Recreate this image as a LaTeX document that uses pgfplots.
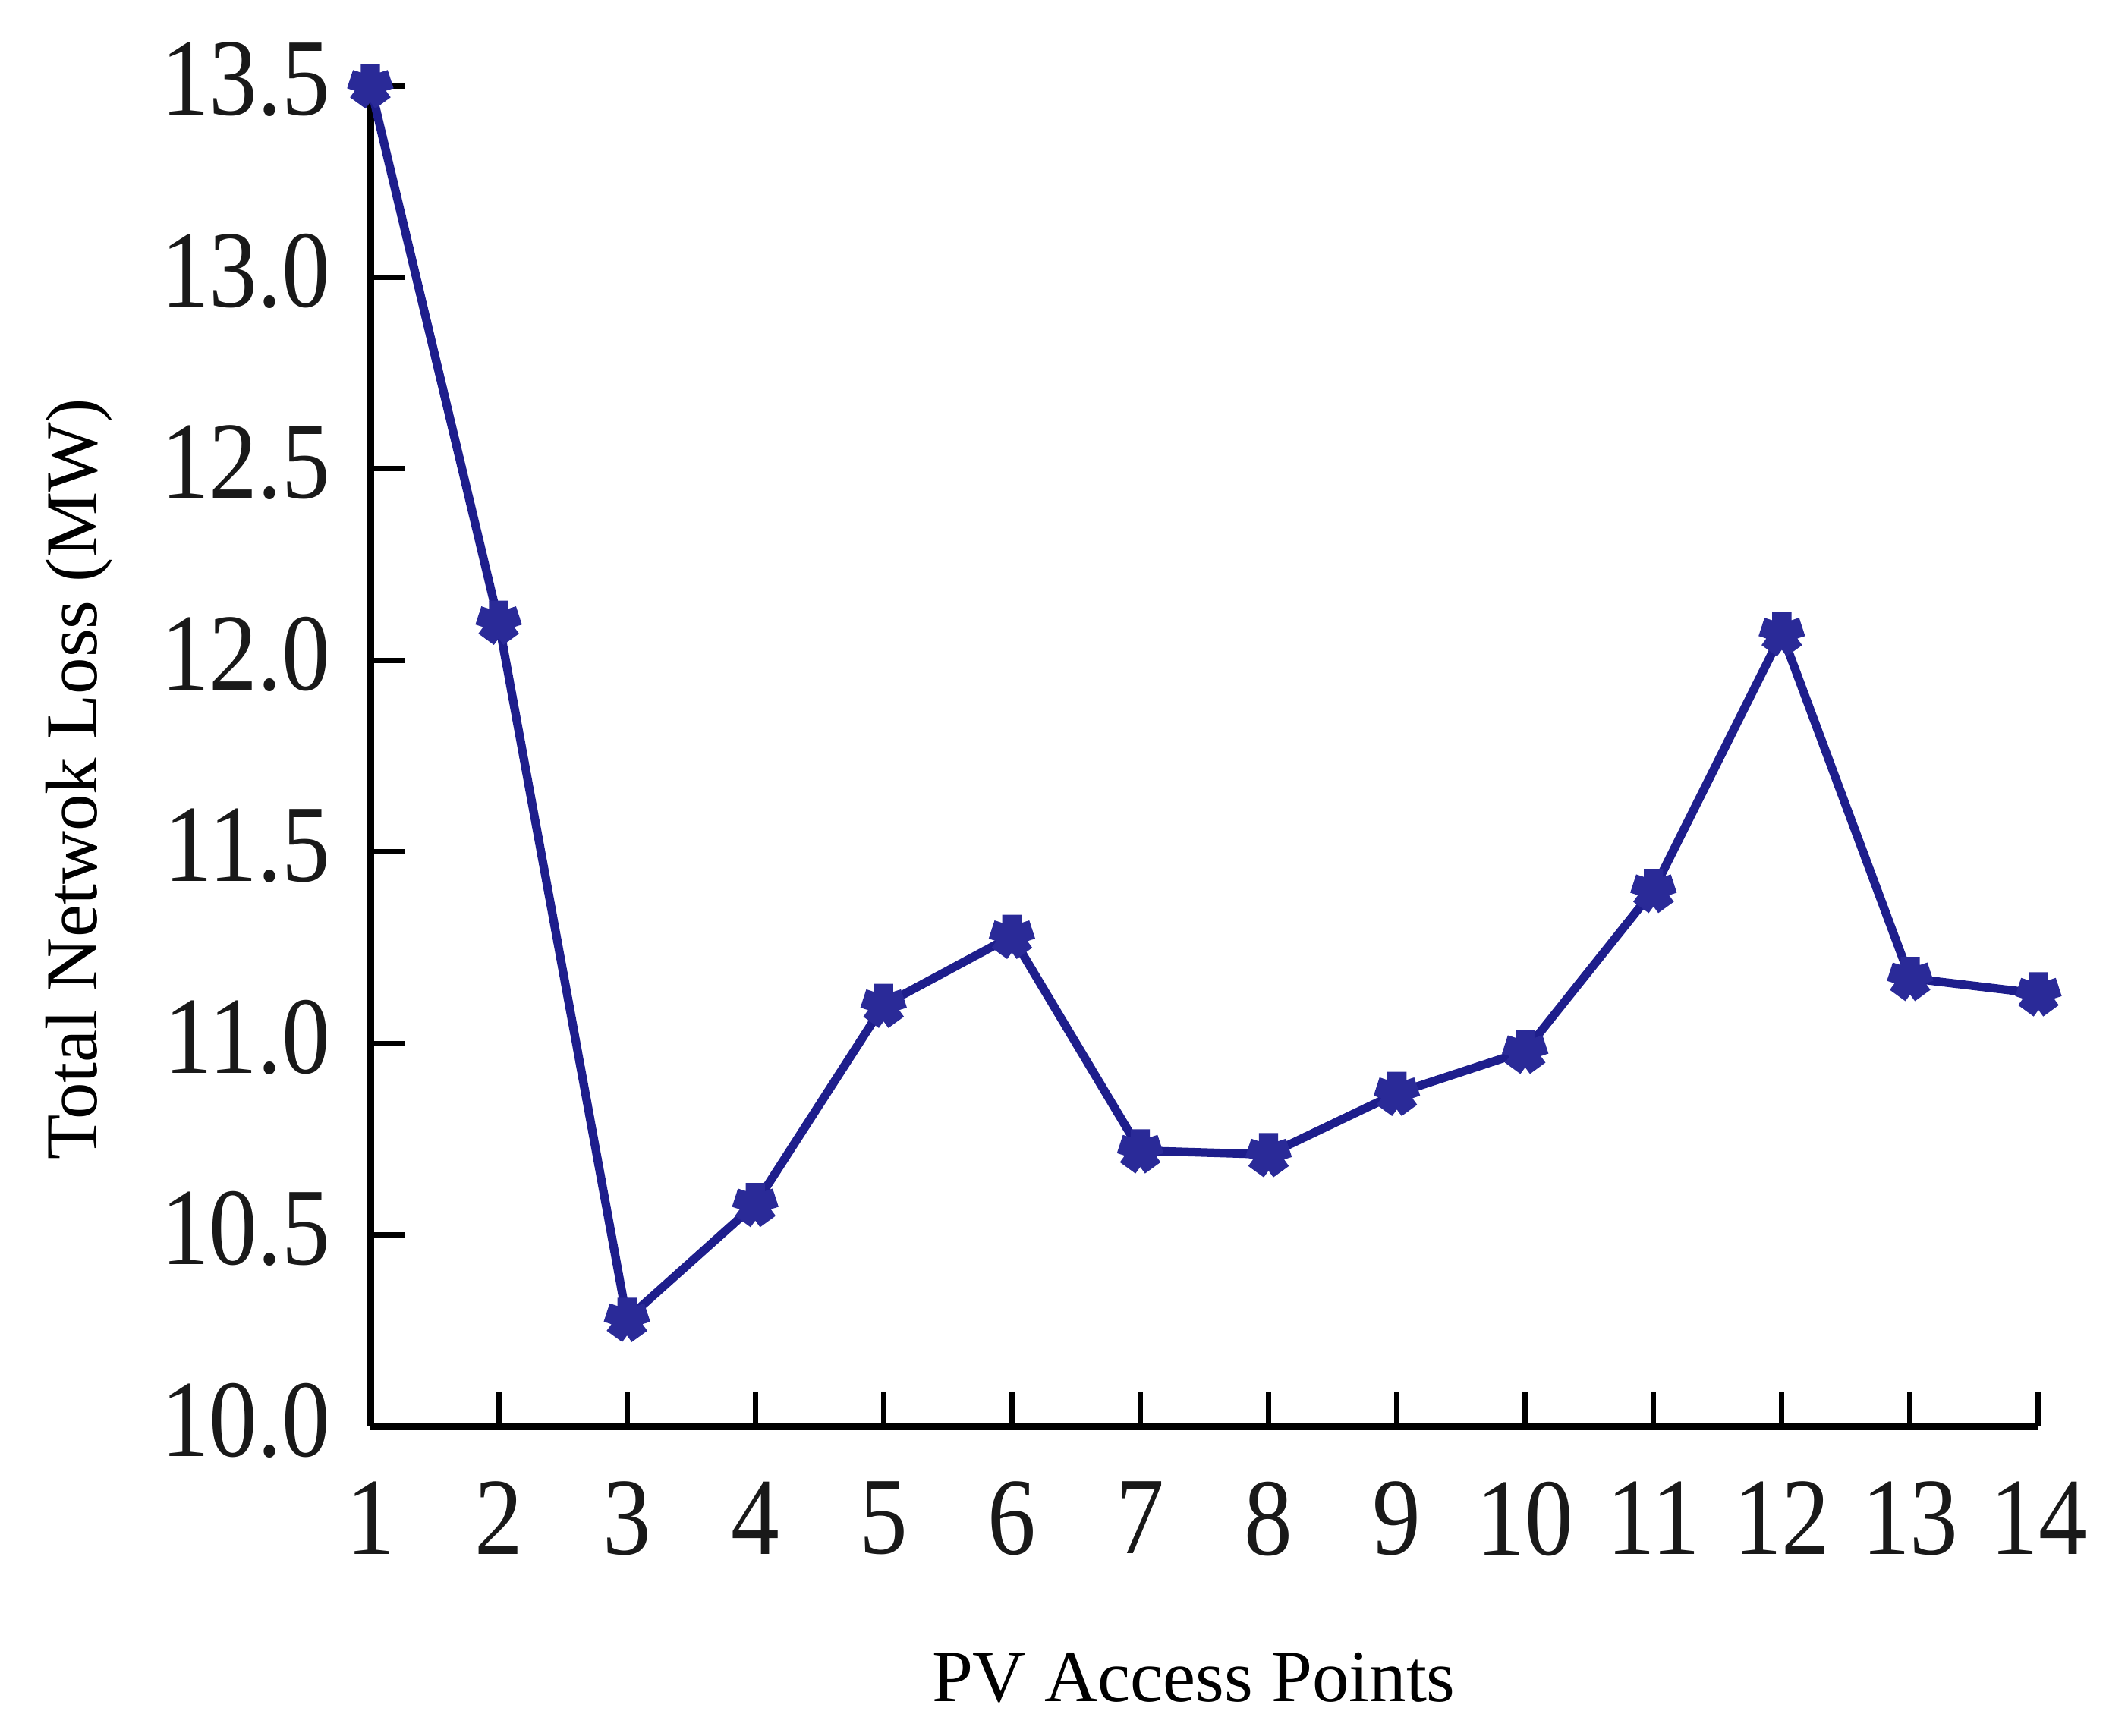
\documentclass[border=0pt]{standalone}
\usepackage{pgfplots}
\pgfplotsset{compat=1.18}
\usepackage{fontspec}
\setmainfont{Liberation Serif}
\newfontfamily\tickfont[FakeStretch=0.88]{Liberation Serif}
\definecolor{navyline}{RGB}{30,30,140}
\definecolor{navymark}{RGB}{42,42,152}

\begin{document}
\begin{tikzpicture}
\useasboundingbox (0,0) rectangle (14.02,11.44);
\begin{axis}[
  at={(2.44cm,2.04cm)}, anchor=south west,
  scale only axis, width=10.99cm, height=8.835cm,
  xmin=1, xmax=14, ymin=10, ymax=13.5,
  axis x line*=bottom, axis y line*=left,
  axis line style={-, line width=1.4pt},
  tick align=inside,
  major tick length=0.225cm,
  every tick/.style={black, line width=1pt},
  xtick={1,...,14},
  ytick={10,10.5,...,13.5},
  /pgf/number format/assume math mode=true,
  yticklabel style={/pgf/number format/fixed, /pgf/number format/fixed zerofill,
    /pgf/number format/precision=1, xshift=-0.14cm, yshift=0.04cm},
  tick label style={font=\tickfont\fontsize{20.6}{24}\selectfont, black!90},
  xticklabel style={yshift=-0.24cm},
  xlabel={PV Access Points},
  ylabel={Total Netwok Loss (MW)},
  label style={font=\fontsize{13.8}{16}\selectfont},
  xlabel style={at={(axis description cs:0.4936,-0.1876)}, anchor=center},
  ylabel style={at={(axis description cs:-0.1747,0.483)}, anchor=center},
  clip=false,
]
\addplot[navyline, line width=1.6pt, mark=star, mark size=4pt,
  mark options={navymark, line width=3.6pt, fill=navymark}]
  coordinates {
  (1,13.50) (2,12.10) (3,10.28) (4,10.58) (5,11.10) (6,11.28) (7,10.72)
  (8,10.71) (9,10.87) (10,10.98) (11,11.40) (12,12.07) (13,11.17) (14,11.13)
  };
\end{axis}
\end{tikzpicture}
\end{document}
